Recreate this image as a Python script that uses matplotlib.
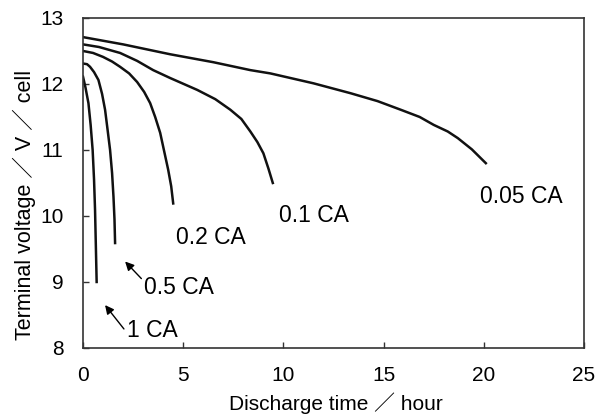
import matplotlib
matplotlib.use("Agg")
import matplotlib.pyplot as plt

plt.rcParams['font.family'] = ['Liberation Sans', 'Noto Sans CJK JP']

# discharge curves (hours, volts per cell)
t_005 = [0, 2, 4.35, 6.5, 8.35, 9.35, 11.5, 13.35, 14.7, 15.85, 16.8, 17.5, 18.2, 18.7, 19.4, 20.1]
v_005 = [12.71, 12.60, 12.45, 12.33, 12.21, 12.16, 12.01, 11.86, 11.74, 11.61, 11.50, 11.38, 11.28, 11.18, 11.01, 10.80]

t_01 = [0, 0.8, 1.85, 2.7, 3.5, 4.35, 5.7, 6.6, 7.35, 7.9, 8.35, 8.7, 9.0, 9.25, 9.47]
v_01 = [12.60, 12.56, 12.47, 12.35, 12.21, 12.09, 11.91, 11.77, 11.61, 11.47, 11.28, 11.12, 10.95, 10.72, 10.50]

t_02 = [0, 0.5, 1.0, 1.45, 1.85, 2.3, 2.7, 3.05, 3.35, 3.6, 3.85, 4.05, 4.25, 4.4, 4.5]
v_02 = [12.50, 12.47, 12.41, 12.34, 12.26, 12.16, 12.03, 11.88, 11.71, 11.50, 11.26, 10.98, 10.70, 10.45, 10.19]

t_05 = [0, 0.2, 0.35, 0.55, 0.77, 0.95, 1.1, 1.22, 1.35, 1.45, 1.52, 1.57, 1.6]
v_05 = [12.31, 12.30, 12.26, 12.18, 12.06, 11.85, 11.61, 11.32, 11.00, 10.65, 10.29, 9.95, 9.59]

t_1 = [0, 0.12, 0.27, 0.38, 0.48, 0.55, 0.6, 0.64, 0.68]
v_1 = [12.11, 11.95, 11.71, 11.38, 11.00, 10.55, 10.09, 9.55, 9.00]

curves = [(t_005, v_005), (t_01, v_01), (t_02, v_02), (t_05, v_05), (t_1, v_1)]

fig = plt.figure(figsize=(5.99, 4.18), dpi=100)
ax = fig.add_axes([0.1386, 0.1675, 0.8364, 0.7895])

for t, v in curves:
    ax.plot(t, v, color='#111111', lw=1.8, solid_joinstyle='round')

lab_fs = 16.5
ax.text(21.85, 10.29, '0.05 CA', fontsize=lab_fs, ha='center', va='center')
ax.text(11.5, 10.0, '0.1 CA', fontsize=lab_fs, ha='center', va='center')
ax.text(6.4, 9.67, '0.2 CA', fontsize=lab_fs, ha='center', va='center')
ax.annotate('0.5 CA', xy=(2.1, 9.31), xytext=(3.05, 8.92), fontsize=lab_fs,
            ha='left', va='center',
            arrowprops=dict(arrowstyle='-|>', color='black', lw=1, mutation_scale=13,
                            shrinkA=0, shrinkB=0, relpos=(0, 0.75)))
ax.annotate('1 CA', xy=(1.1, 8.65), xytext=(2.18, 8.27), fontsize=lab_fs,
            ha='left', va='center',
            arrowprops=dict(arrowstyle='-|>', color='black', lw=1, mutation_scale=13,
                            shrinkA=0, shrinkB=0, relpos=(0, 0.4)))

ax.set_xlim(0, 25)
ax.set_ylim(8, 13)
ax.set_xticks([0, 5, 10, 15, 20, 25])
ax.set_yticks([8, 9, 10, 11, 12, 13])
ax.tick_params(direction='in', length=4, width=1, labelsize=15, color='#333333')
ax.tick_params(axis='x', pad=13)
ax.tick_params(axis='y', pad=14)
for s in ax.spines.values():
    s.set_linewidth(1.2)
    s.set_color('#333333')

ax.set_xlabel('Discharge time \uff0f hour', fontsize=15)
ax.set_ylabel('Terminal voltage \uff0f V \uff0f cell', fontsize=15.5)
ax.xaxis.set_label_coords(0.505, -0.133)
ax.yaxis.set_label_coords(-0.094, 0.433)

fig.savefig('out.png', dpi=100)
